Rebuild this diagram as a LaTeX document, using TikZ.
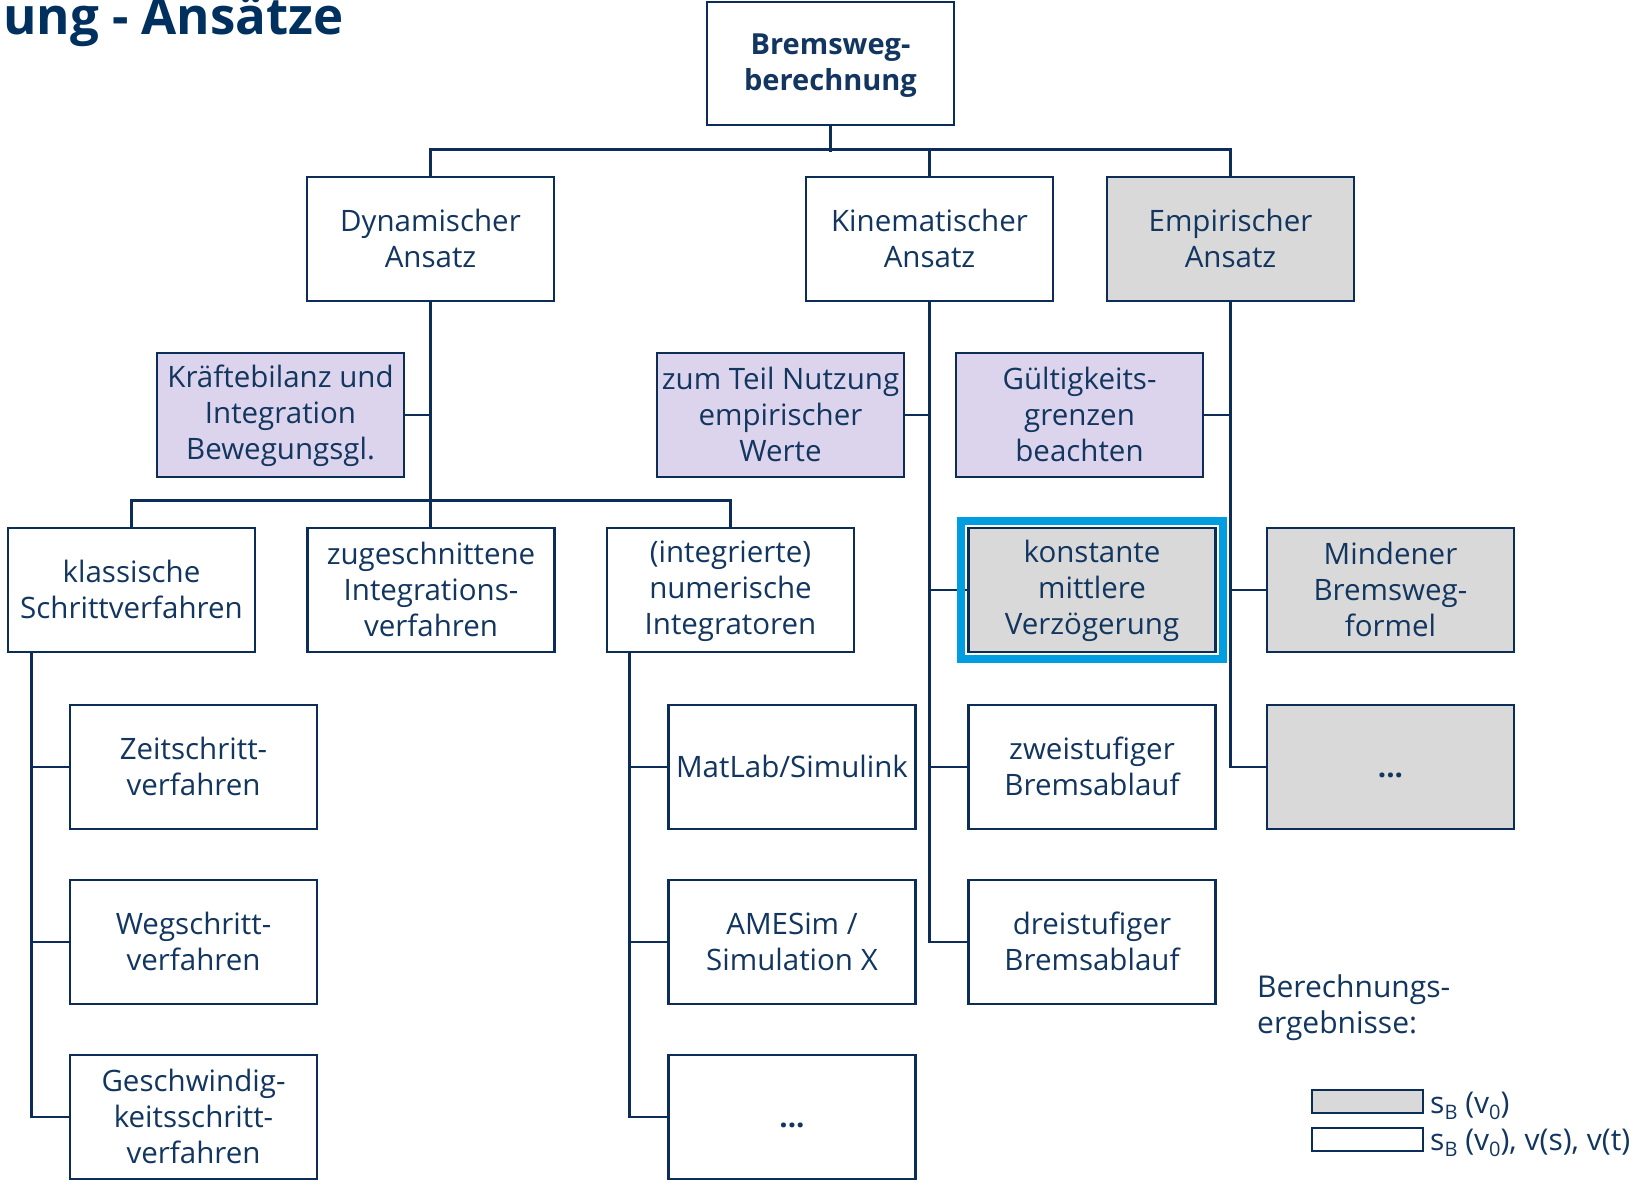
\documentclass[tikz,border=0pt]{standalone}
\usepackage{fontspec}
\setmainfont{Open Sans}
\usetikzlibrary{backgrounds}
\definecolor{navy}{HTML}{0C2D57}
\definecolor{txt}{HTML}{12365F}
\definecolor{titleblue}{HTML}{00305E}
\definecolor{lav}{HTML}{DCD4EC}
\definecolor{lgray}{HTML}{D9D9D9}
\definecolor{hlblue}{HTML}{009EE0}
\newcommand\sa{\rule[-4pt]{0pt}{29pt}}
\newcommand\sbs[1]{\raisebox{-0.2em}{\fontsize{20}{20}\selectfont #1}}
\begin{document}
\begin{tikzpicture}[x=1pt,y=-1pt,
  box/.style={draw=navy, line width=2.6pt, fill=white, minimum width=247pt,
    minimum height=124pt, inner sep=0pt, align=center, text=txt,
    font=\fontsize{29.5}{36}\selectfont},
  graybox/.style={box, fill=lgray},
  lavbox/.style={box, fill=lav},
  conn/.style={draw=navy, line width=2.6pt},
  hl/.style={draw=hlblue, line width=8pt},
  legbox/.style={draw=navy, line width=1.8pt, minimum width=111pt, minimum height=23pt, inner sep=0pt},
  legtext/.style={text=txt, inner sep=0pt, font=\fontsize{30}{36}\selectfont}]
\useasboundingbox (0,0) rectangle (1642,1182);

% title
\node[anchor=base east, inner sep=0pt, text=titleblue, font=\bfseries\fontsize{51}{51}\selectfont] (title) at (344,35) {ung - Ansätze};

% top
\node[box, minimum height=123pt, font=\bfseries\fontsize{29}{36}\selectfont] (top) at (830.5,63.5) {\sa Bremsweg-\\berechnung\sa};

% row 1
\node[box] (dyn) at (430.5,239) {\sa Dynamischer\\Ansatz\sa};
\node[box] (kin) at (929.5,239) {\sa Kinematischer\\Ansatz\sa};
\node[graybox] (emp) at (1230.5,239) {\sa Empirischer\\Ansatz\sa};

% row 2
\node[lavbox] (kraft) at (280.5,415) {\sa Kräftebilanz und\\Integration\\Bewegungsgl.\sa};
\node[lavbox] (teil) at (780.5,415) {\sa zum Teil Nutzung\\empirischer\\Werte\sa};
\node[lavbox] (guelt) at (1079.5,415) {\sa Gültigkeits-\\grenzen\\beachten\sa};

% row 3
\node[box] (klass) at (131.5,590) {\sa klassische\\Schrittverfahren\sa};
\node[box] (zug) at (431,590) {\sa zugeschnittene\\Integrations-\\verfahren\sa};
\node[box] (integ) at (730.5,590) {\sa (integrierte)\\numerische\\Integratoren\sa};
\node[graybox] (konst) at (1092,590) {\sa konstante\\mittlere\\Verzögerung\sa};
\node[graybox] (mind) at (1390.5,590) {\sa Mindener\\Bremsweg-\\formel\sa};

% row 4
\node[box] (zeit) at (193.5,767) {\sa Zeitschritt-\\verfahren\sa};
\node[box] (matlab) at (792,767) {\sa MatLab/Simulink\sa};
\node[box] (zwei) at (1092,767) {\sa zweistufiger\\Bremsablauf\sa};
\node[graybox] (dots1) at (1390.5,767) {\sa\bfseries ...\sa};

% row 5
\node[box] (weg) at (193.5,942) {\sa Wegschritt-\\verfahren\sa};
\node[box] (ames) at (792,942) {\sa AMESim /\\Simulation X\sa};
\node[box] (drei) at (1092,942) {\sa dreistufiger\\Bremsablauf\sa};

% row 6
\node[box] (gesch) at (193.5,1117) {\sa Geschwindig-\\keitsschritt-\\verfahren\sa};
\node[box] (dots2) at (792,1117) {\sa\bfseries ...\sa};

\coordinate (kt) at ([xshift=25pt]klass.south west);
\coordinate (it) at ([xshift=24pt]integ.south west);

\begin{scope}[on background layer]
  \draw[conn] (top.south) -- ++(0,26);
  \draw[conn] (dyn.north) -- ++(0,-26) -| (emp.north);
  \draw[conn] (kin.north) -- ++(0,-26);
  \draw[conn] (dyn.south) -- (dyn.south |- zug.north);
  \draw[conn] (klass.north) -- ++(0,-26) -| (integ.north);
  \draw[conn] (kraft.east) -- (kraft.east -| dyn.south);
  \draw[conn] (kin.south) |- (drei.west);
  \draw[conn] (teil.east) -- (teil.east -| kin.south);
  \draw[conn] (konst.west) -- (konst.west -| kin.south);
  \draw[conn] (zwei.west) -- (zwei.west -| kin.south);
  \draw[conn] (emp.south) |- (dots1.west);
  \draw[conn] (guelt.east) -- (guelt.east -| emp.south);
  \draw[conn] (mind.west) -- (mind.west -| emp.south);
  \draw[conn] (kt) |- (gesch.west);
  \draw[conn] (zeit.west) -- (zeit.west -| kt);
  \draw[conn] (weg.west) -- (weg.west -| kt);
  \draw[conn] (it) |- (dots2.west);
  \draw[conn] (matlab.west) -- (matlab.west -| it);
  \draw[conn] (ames.west) -- (ames.west -| it);
  \draw[hl] ([shift={(-6pt,-6pt)}]konst.south west) rectangle ([shift={(6pt,6pt)}]konst.north east);
\end{scope}

% legend
\node[legtext, anchor=base west, align=left] (leg) at (1257,1033) {Berechnungs-\\ergebnisse:};
\node[legbox, fill=lgray] (lg1) at (1367.5,1101.5) {};
\node[legbox, fill=white] (lg2) at (1367.5,1139.5) {};
\node[legtext, anchor=base west] (lt1) at (1430,1113) {s\sbs{B} (v\sbs{0})};
\node[legtext, anchor=base west] (lt2) at (1430,1150) {s\sbs{B} (v\sbs{0}), v(s), v(t)};
\end{tikzpicture}
\end{document}
